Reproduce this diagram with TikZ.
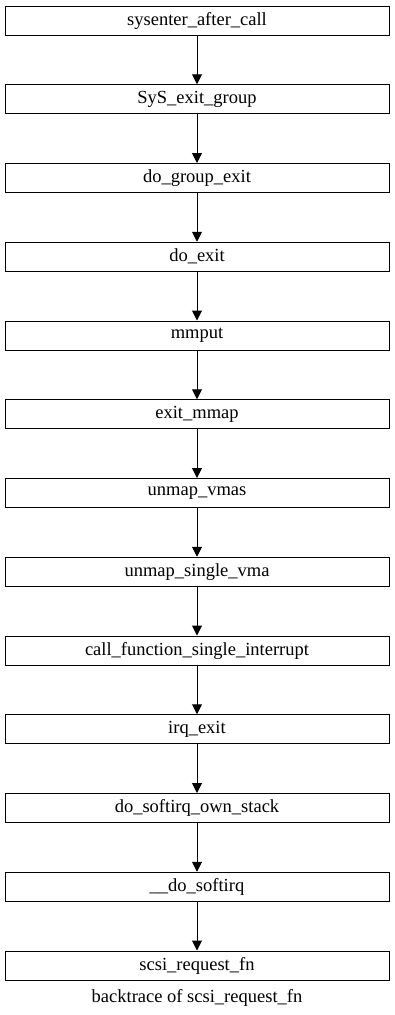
\documentclass[tikz,border=0pt]{standalone}
\usepackage{fontspec}
\setmainfont{Liberation Serif}
\usetikzlibrary{arrows.meta}
\begin{document}
\begin{tikzpicture}[x=1pt,y=-1pt,
  lbl/.style={font=\fontsize{18.5pt}{20pt}\selectfont},
  fn/.style={lbl, draw=black, line width=1pt, minimum width=384pt, minimum height=29pt,
    inner sep=0pt},
  call/.style={-{Triangle[length=10pt,width=10pt]}, line width=1pt}]
\useasboundingbox (0,0) rectangle (395,1015);
\foreach \name/\txt [count=\i from 0] in {
  n0/sysenter\_after\_call,
  n1/SyS\_exit\_group,
  n2/do\_group\_exit,
  n3/do\_exit,
  n4/mmput,
  n5/exit\_mmap,
  n6/unmap\_vmas,
  n7/unmap\_single\_vma,
  n8/call\_function\_single\_interrupt,
  n9/irq\_exit,
  n10/do\_softirq\_own\_stack,
  n11/\_\_do\_softirq,
  n12/scsi\_request\_fn}
  \node[fn] (\name) at (197, 20.5+78.75*\i) {\txt};
\foreach \a/\b in {n0/n1,n1/n2,n2/n3,n3/n4,n4/n5,n5/n6,n6/n7,n7/n8,n8/n9,n9/n10,n10/n11,n11/n12}
  \draw[call] (\a) -- (\b);
\node[lbl] (cap) at (197,998) {backtrace of scsi\_request\_fn};
\end{tikzpicture}
\end{document}
